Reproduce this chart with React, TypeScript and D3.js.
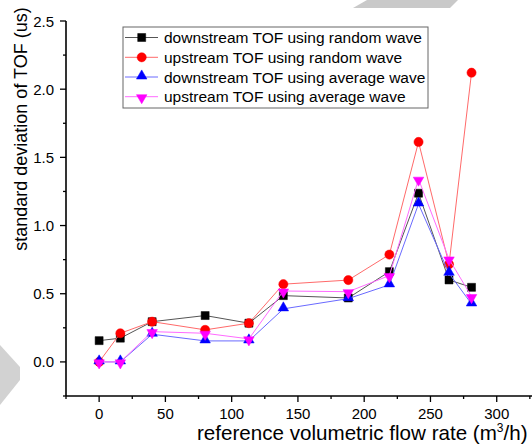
import React, { useEffect } from 'react';
import * as d3 from 'd3';

// ---- data ----
const flowRates = [0, 16, 40, 80, 113, 139, 188, 219, 241, 264, 281];
const downRandom = [0.156, 0.174, 0.295, 0.34, 0.284, 0.486, 0.469, 0.662, 1.237, 0.601, 0.547];
const upRandom = [0, 0.21, 0.295, 0.235, 0.284, 0.57, 0.6, 0.787, 1.613, 0.716, 2.121];
const downAverage = [0, 0, 0.203, 0.154, 0.154, 0.389, 0.464, 0.565, 1.158, 0.65, 0.425];
const upAverage = [0, 0, 0.222, 0.21, 0.169, 0.52, 0.515, 0.633, 1.34, 0.755, 0.479];

const seriesNames = [
  'downstream TOF using random wave',
  'upstream TOF using random wave',
  'downstream TOF using average wave',
  'upstream TOF using average wave',
];
const seriesValues = [downRandom, upRandom, downAverage, upAverage];
const markerColors = ['#000000', '#ff0000', '#0000ff', '#ff00ff'];
const lineColors = ['#555555', '#ff6a6a', '#6a6aff', '#ff6aff'];
const markerKinds = ['square', 'circle', 'up', 'down'];

const xMajorTicks = [0, 50, 100, 150, 200, 250, 300];
const xMinorTicks = [-25, 25, 75, 125, 175, 225, 275, 325];
const yMajorTicks = [0, 0.5, 1.0, 1.5, 2.0, 2.5];
const yMinorTicks = [-0.25, 0.25, 0.75, 1.25, 1.75, 2.25];

const W = 532;
const H = 448;
const FONT = 'Arial, "Liberation Sans", sans-serif';

const x = d3.scaleLinear().domain([-25, 350]).range([66, 66 + 375 * 1.3253]);
const y = d3.scaleLinear().domain([-0.25, 2.5]).range([396, 21]);

function markerPath(kind: string): string {
  if (kind === 'square') return d3.symbol(d3.symbolSquare, 64)() as string;
  if (kind === 'circle') return d3.symbol(d3.symbolCircle, 66)() as string;
  return d3.symbol(d3.symbolTriangle, 48)() as string;
}

function Marker({ kind, cx, cy, color }: { kind: string; cx: number; cy: number; color: string }) {
  const rot = kind === 'down' ? ' rotate(180)' : '';
  const dy = kind === 'up' ? -1 : kind === 'down' ? 1 : 0;
  return (
    <path
      d={markerPath(kind)}
      transform={`translate(${cx},${cy + dy})${rot}`}
      fill={color}
      stroke={color}
      strokeWidth={0.5}
    />
  );
}

export default function App() {
  useEffect(() => {
    document.body.style.margin = '0';
  }, []);

  const line = d3
    .line<number>()
    .x((_, i) => x(flowRates[i]))
    .y((d) => y(d));

  const legendX = 123;
  const legendY = 27;
  const legendW = 305;
  const legendH = 81;
  const rowYs = [37.5, 57.3, 77, 96.7];

  return (
    <svg
      width={W}
      height={H}
      style={{ position: 'absolute', left: 0, top: 0, background: '#fff' }}
      fontFamily={FONT}
    >
      <rect x={0} y={0} width={W} height={H} fill="#ffffff" />
      {/* watermark fragments */}
      <polygon points="367,0 458,0 450,8 353,8" fill="#c9c9c9" />
      <polygon points="0,345 20,367 20,380 0,405" fill="#d2d2d2" />

      {/* series */}
      {seriesValues.map((vals, si) => (
        <g key={si}>
          <path d={line(vals) as string} fill="none" stroke={lineColors[si]} strokeWidth={1} />
          {vals.map((v, i) => (
            <Marker key={i} kind={markerKinds[si]} cx={x(flowRates[i])} cy={y(v)} color={markerColors[si]} />
          ))}
        </g>
      ))}

      {/* axes */}
      <line x1={x(-25)} x2={W} y1={y(-0.25)} y2={y(-0.25)} stroke="#000" strokeWidth={1.6} />
      <line x1={x(-25)} x2={x(-25)} y1={y(-0.25)} y2={y(2.5)} stroke="#000" strokeWidth={1.6} />
      {xMajorTicks.map((t) => (
        <g key={'xm' + t}>
          <line x1={x(t)} x2={x(t)} y1={y(-0.25)} y2={y(-0.25) + 6} stroke="#000" strokeWidth={1.3} />
          <text x={x(t)} y={y(-0.25) + 23} textAnchor="middle" fontSize={15} fill="#000">
            {t}
          </text>
        </g>
      ))}
      {xMinorTicks.map((t) => (
        <line key={'xn' + t} x1={x(t)} x2={x(t)} y1={y(-0.25)} y2={y(-0.25) + 3} stroke="#000" strokeWidth={1.3} />
      ))}
      {yMajorTicks.map((t) => (
        <g key={'ym' + t}>
          <line x1={x(-25) - 6} x2={x(-25)} y1={y(t)} y2={y(t)} stroke="#000" strokeWidth={1.3} />
          <text x={54} y={y(t) + 5.5} textAnchor="end" fontSize={15} fill="#000">
            {d3.format('.1f')(t)}
          </text>
        </g>
      ))}
      {yMinorTicks.map((t) => (
        <line key={'yn' + t} x1={x(-25) - 3} x2={x(-25)} y1={y(t)} y2={y(t)} stroke="#000" strokeWidth={1.3} />
      ))}

      {/* axis titles */}
      <text x={197} y={440} fontSize={20.6} fill="#000">
        reference volumetric flow rate (m
        <tspan fontSize={12} dy={-8}>3</tspan>
        <tspan dy={8}>/h)</tspan>
      </text>
      <text
        transform={`translate(27,${129}) rotate(-90)`}
        textAnchor="middle"
        fontSize={18}
        fill="#000"
      >
        standard deviation of TOF (us)
      </text>

      {/* legend */}
      <rect x={legendX} y={legendY} width={legendW} height={legendH} fill="#fff" stroke="#666" strokeWidth={1} />
      {seriesNames.map((name, i) => (
        <g key={name}>
          <line x1={125} x2={158} y1={rowYs[i]} y2={rowYs[i]} stroke={lineColors[i]} strokeWidth={1} />
          <Marker kind={markerKinds[i]} cx={141.7} cy={rowYs[i]} color={markerColors[i]} />
          <text x={164} y={rowYs[i] + 5.5} fontSize={15.5} fill="#000">
            {name}
          </text>
        </g>
      ))}
    </svg>
  );
}
